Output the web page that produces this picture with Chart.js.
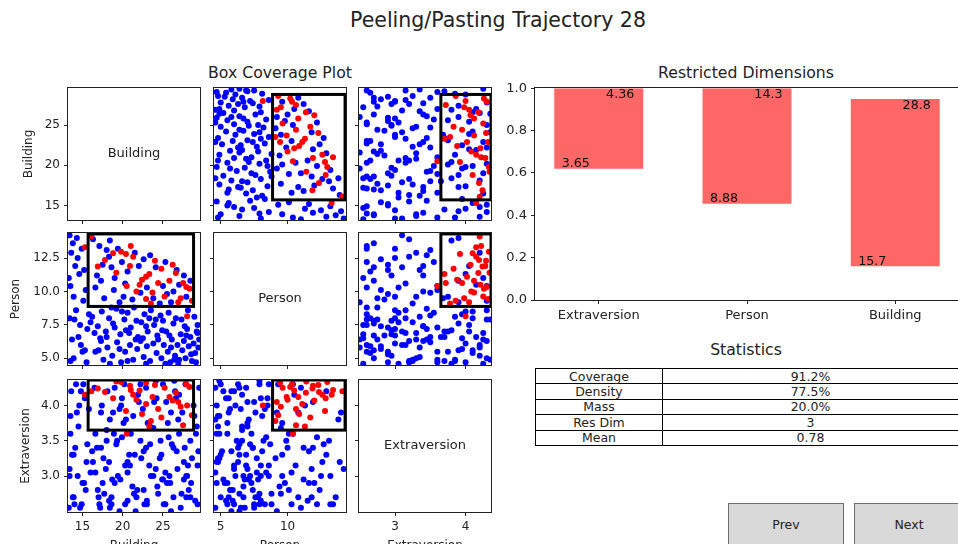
<!DOCTYPE html>
<html>
<head>
<meta charset="utf-8">
<title>Peeling/Pasting Trajectory 28</title>
<script src="https://cdn.jsdelivr.net/npm/chart.js@4.4.1/dist/chart.umd.min.js"></script>
<style>
  body { margin: 0; width: 958px; height: 544px; overflow: hidden; position: relative; background: #fff;
         font-family: "DejaVu Sans", sans-serif; color: #111; }
  canvas { position: absolute; left: 0; top: 0; }
  .lbl { position: absolute; white-space: nowrap; line-height: 1; transform: translate(-50%, -50%); }
  #stats { position: absolute; left: 535px; top: 368px; width: 424px; border-collapse: collapse;
           table-layout: fixed; font-size: 12.5px; line-height: 13px; color: #222; }
  #stats td { border: 1px solid #000; padding: 0; height: 14.4px; text-align: center; }
  .btn { position: absolute; top: 503px; height: 60px; box-sizing: border-box; background: #d9d9d9;
         border: 1px solid #6e6e6e; font-size: 12.5px; line-height: 12.5px; padding-top: 15px; text-align: center; color: #222; }
</style>
</head>
<body>
<div class="lbl" style="left:498px;top:20px;font-size:20.5px;color:#222">Peeling/Pasting Trajectory 28</div>
<div class="lbl" style="left:280px;top:73px;font-size:15.7px;color:#222">Box Coverage Plot</div>
<div class="lbl" style="left:746px;top:73px;font-size:15.7px;color:#222">Restricted Dimensions</div>
<div class="lbl" style="left:746px;top:350px;font-size:15.7px;color:#222">Statistics</div>
<table id="stats"><colgroup><col style="width:127px"><col></colgroup></table>
<div class="btn" style="left:728px;width:116px">Prev</div>
<div class="btn" style="left:854px;width:110px">Next</div>
<script>
// dimensions of the scatter matrix (rows / columns)
const dimNames = ['Building', 'Person', 'Extraversion'];
const axisMin = [13.2, 4.5, 2.49];
const axisMax = [29.6, 14.37, 4.36];
const xTicks = [[15, 20, 25], [5, 10], [3, 4]];
const yTicks = [[15, 20, 25], [5, 7.5, 10, 12.5], [3, 3.5, 4]];
const yDecimals = [0, 1, 1];
const boxLow = [15.7, 8.88, 3.65];
const boxHigh = [28.8, 14.3, 4.36];

// points: [building, person, extraversion]
const redPoints = [
  [26.9, 9.19, 4.05], [27.9, 10.33, 4.30], [27.5, 10.63, 3.72], [26.6, 11.37, 4.18], [25.2, 9.63, 4.25],
  [24.4, 10.63, 3.95], [23.7, 9.93, 4.12], [23.5, 9.09, 3.78], [22.9, 9.44, 4.32], [22.9, 11.10, 4.02],
  [22.4, 10.87, 3.88], [22.1, 10.50, 4.21], [21.7, 10.00, 4.08], [20.9, 11.90, 4.28], [21.3, 12.60, 4.15],
  [20.4, 12.80, 3.92], [19.8, 12.97, 4.33], [18.8, 12.85, 4.10], [17.8, 12.35, 4.19], [16.9, 11.86, 4.24],
  [16.1, 14.10, 4.20], [23.3, 11.30, 3.70], [28.3, 10.20, 4.26], [27.2, 9.50, 3.98], [25.8, 10.80, 4.12],
  [24.8, 11.70, 3.83], [19.2, 11.40, 4.34], [26.2, 12.00, 4.07], [28.6, 9.30, 3.86], [21.0, 13.40, 4.22],
  [24.0, 12.30, 4.29], [28.0, 8.15, 4.00], [15.3, 13.30, 4.15], [20.5, 10.40, 3.60]
];
const bluePoints = [
  [13.4, 14.2, 3.1], [13.8, 13.6, 2.7], [14.3, 14.0, 3.9], [13.6, 12.9, 4.2], [14.9, 13.2, 2.6],
  [14.1, 11.9, 3.4], [15.2, 11.6, 2.9], [14.6, 11.3, 4.0], [13.5, 10.4, 3.6], [15.4, 10.1, 2.8],
  [13.9, 9.6, 3.3], [15.1, 9.3, 4.3], [14.4, 12.5, 3.0], [13.3, 11.0, 2.55],
  [16.3, 13.9, 3.2], [17.1, 13.4, 2.6], [18.0, 13.1, 3.5], [17.5, 12.0, 2.9], [16.8, 11.2, 3.4],
  [18.6, 11.8, 2.7], [19.4, 13.2, 3.0], [19.9, 12.2, 3.55], [20.6, 11.5, 2.65], [21.5, 12.9, 3.3],
  [22.6, 12.4, 2.8], [23.4, 12.7, 3.45], [24.1, 11.8, 3.1], [25.3, 12.2, 2.6], [26.7, 11.6, 3.35],
  [27.6, 11.2, 2.95], [16.6, 10.3, 3.05], [17.7, 9.5, 2.75], [18.9, 10.1, 3.6], [19.6, 9.2, 2.5],
  [20.3, 10.6, 3.15], [21.2, 9.4, 2.85], [22.2, 9.9, 3.5], [23.0, 10.3, 2.6], [24.6, 9.1, 3.25],
  [25.5, 9.8, 2.9], [26.3, 10.0, 3.4], [27.9, 9.6, 3.0], [28.4, 10.8, 2.7], [18.3, 12.6, 3.2],
  [17.3, 10.8, 3.9], [19.0, 11.0, 4.25], [20.1, 9.6, 3.75], [22.0, 11.9, 4.05], [23.8, 9.5, 3.68],
  [25.0, 10.4, 4.3], [26.0, 9.2, 3.9], [27.0, 10.5, 4.15], [18.4, 13.8, 3.8],
  [13.4, 8.0, 3.0], [14.0, 7.9, 2.6], [14.5, 6.6, 3.7], [13.7, 6.4, 3.3], [15.0, 5.5, 2.9],
  [15.3, 5.6, 4.1], [14.2, 8.6, 4.3], [15.6, 7.2, 3.45], [13.9, 5.0, 2.7], [15.8, 8.3, 3.95],
  [14.7, 7.5, 2.55], [13.5, 4.8, 3.85], [15.5, 4.7, 3.2], [14.8, 6.0, 4.2],
  [16.2, 8.1, 3.35], [16.9, 7.4, 2.8], [17.4, 8.5, 4.0], [17.9, 7.0, 3.1], [18.3, 8.0, 2.65],
  [18.8, 7.6, 3.9], [19.2, 8.7, 3.45], [19.7, 6.8, 2.95], [20.2, 7.9, 4.3], [20.6, 8.4, 3.05],
  [21.0, 7.3, 3.6], [21.4, 8.8, 2.75], [21.9, 6.6, 4.15], [22.3, 7.7, 3.25], [22.7, 8.3, 2.6],
  [23.1, 7.0, 3.75], [23.5, 8.6, 3.0], [23.9, 7.5, 4.05], [24.3, 6.7, 2.85], [24.7, 8.2, 3.5],
  [16.5, 6.9, 4.25], [17.2, 6.5, 2.55], [18.0, 6.6, 3.65], [19.0, 7.3, 2.9], [19.9, 8.5, 4.1],
  [20.8, 6.9, 3.3], [21.7, 7.8, 2.7], [22.5, 6.5, 3.95], [23.3, 8.0, 3.15], [24.1, 7.9, 4.35],
  [16.0, 7.7, 3.05], [18.6, 8.8, 2.6], [20.4, 7.1, 3.8], [22.9, 7.4, 3.4], [24.9, 7.1, 2.95],
  [16.6, 5.5, 3.6], [17.0, 5.6, 2.7], [17.6, 4.9, 3.25], [18.1, 5.8, 4.2], [18.7, 5.2, 2.95],
  [19.3, 6.2, 3.5], [19.8, 4.7, 4.0], [20.3, 5.5, 2.6], [20.9, 6.0, 3.15], [21.3, 4.9, 3.85],
  [21.8, 5.7, 2.8], [22.2, 6.3, 4.3], [22.6, 5.1, 3.35], [23.0, 5.9, 2.65], [23.4, 4.8, 3.7],
  [23.8, 6.1, 3.0], [24.2, 5.4, 4.1], [17.3, 6.3, 3.4], [18.4, 4.6, 2.55], [19.6, 5.7, 3.95],
  [20.6, 4.8, 3.2], [21.6, 6.4, 2.5], [22.9, 4.6, 4.25], [24.4, 6.4, 2.75],
  [24.8, 5.0, 3.3], [25.1, 6.0, 2.6], [25.4, 7.0, 4.05], [25.6, 5.5, 3.75], [25.9, 4.7, 2.9],
  [26.1, 6.4, 3.45], [26.3, 7.6, 2.7], [26.5, 5.2, 4.2], [26.8, 6.0, 3.1], [27.0, 4.9, 3.6],
  [27.2, 6.8, 2.55], [27.4, 5.6, 3.9], [27.6, 6.3, 3.2], [27.8, 5.0, 4.3], [28.0, 7.2, 3.0],
  [28.2, 5.9, 2.8], [28.4, 6.6, 3.5], [28.6, 4.8, 3.25], [28.8, 6.1, 4.0], [29.0, 5.4, 2.65],
  [29.2, 7.0, 3.7], [29.4, 5.8, 3.35], [25.0, 7.8, 2.95], [25.7, 8.4, 3.55], [26.6, 8.0, 4.1],
  [27.3, 7.9, 2.75], [28.1, 8.6, 3.15], [28.9, 8.1, 3.85], [29.3, 7.5, 2.6], [29.5, 6.4, 4.25],
  [25.3, 4.6, 3.05], [26.0, 5.8, 2.5], [26.9, 4.6, 3.8], [27.7, 7.4, 3.4], [28.5, 5.3, 2.9],
  [29.1, 4.7, 3.6], [25.8, 6.7, 3.0], [26.4, 4.9, 4.35], [27.9, 6.7, 2.7], [29.3, 6.9, 3.15]
];

// restricted dimensions bar chart
const barDims = ['Extraversion', 'Person', 'Building'];
const barLow = [0.62, 0.455, 0.16];
const barHigh = [1.0, 1.0, 0.95];
const barLowText = ['3.65', '8.88', '15.7'];
const barHighText = ['4.36', '14.3', '28.8'];
const barTicks = [0, 0.2, 0.4, 0.6, 0.8, 1.0];

// statistics table
const statNames = ['Coverage', 'Density', 'Mass', 'Res Dim', 'Mean'];
const statValues = ['91.2%', '77.5%', '20.0%', '3', '0.78'];

const CW = 1000, CH = 600;
const colLeft = [68, 214, 359];
const rowTop = [88, 233, 380];
const cellSize = 132;
const yTitleX = [29, 16, 26];
const xTitleY = 546;
const HALF_LH = 7.2;
const FONT = '"DejaVu Sans", sans-serif';

Chart.defaults.font.family = FONT;
Chart.defaults.color = '#222';

const tbl = document.getElementById('stats');
statNames.forEach((n, k) => {
  const tr = tbl.insertRow();
  tr.insertCell().textContent = n;
  tr.insertCell().textContent = statValues[k];
});

function addCanvas() {
  const c = document.createElement('canvas');
  c.width = CW; c.height = CH;
  document.body.appendChild(c);
  return c;
}

// frame, box rectangle and diagonal label
const decor = {
  id: 'decor',
  afterDatasetsDraw(chart, args, opts) {
    const { ctx, chartArea: a, scales } = chart;
    if (opts.box) {
      const [x0, x1, y0, y1] = opts.box;
      ctx.save();
      ctx.beginPath();
      ctx.rect(a.left, a.top, a.right - a.left, a.bottom - a.top);
      ctx.clip();
      const px0 = scales.x.getPixelForValue(x0), px1 = scales.x.getPixelForValue(x1);
      const py0 = scales.y.getPixelForValue(y0), py1 = scales.y.getPixelForValue(y1);
      ctx.lineWidth = 3;
      ctx.strokeStyle = '#000';
      ctx.strokeRect(px0, py1, px1 - px0, py0 - py1);
      ctx.restore();
    }
    if (opts.label) {
      ctx.save();
      ctx.font = '13px ' + FONT;
      ctx.fillStyle = '#222';
      ctx.textAlign = 'center';
      ctx.textBaseline = 'middle';
      ctx.fillText(opts.label, (a.left + a.right) / 2, (a.top + a.bottom) / 2);
      ctx.restore();
    }
    ctx.save();
    ctx.lineWidth = 1;
    ctx.strokeStyle = '#222';
    const l = Math.round(a.left) - 0.5, t = Math.round(a.top) - 0.5;
    ctx.strokeRect(l, t, Math.round(a.right) - Math.round(a.left) + 1, Math.round(a.bottom) - Math.round(a.top) + 1);
    ctx.restore();
  }
};

const barText = {
  id: 'barText',
  afterDatasetsDraw(chart) {
    const { ctx, scales: { x, y } } = chart;
    ctx.save();
    ctx.font = '12.7px ' + FONT;
    ctx.fillStyle = '#111';
    ctx.textBaseline = 'alphabetic';
    barLow.forEach((lo, k) => {
      ctx.textAlign = 'left';
      ctx.fillText(barLowText[k], x.getPixelForValue(k - 0.25), y.getPixelForValue(lo) - 1.5);
      ctx.textAlign = 'right';
      ctx.fillText(barHighText[k], x.getPixelForValue(k + 0.24), y.getPixelForValue(barHigh[k]) + 10);
    });
    ctx.restore();
  }
};

function axisOpts(dim, side, showLabels, ticks, dec, size) {
  return {
    type: 'linear', position: side, min: axisMin[dim], max: axisMax[dim],
    afterBuildTicks: s => { s.ticks = ticks.map(v => ({ value: v })); },
    afterFit: s => { if (side === 'left') s.width = size; else s.height = size; },
    grid: { display: true, drawOnChartArea: false, drawTicks: true, tickLength: 4, color: '#222', lineWidth: 1 },
    border: { display: false },
    ticks: { display: showLabels, padding: 4, autoSkip: false, maxRotation: 0, color: '#222',
             font: { size: 12 }, callback: v => Number(v).toFixed(dec) },
    title: { display: showLabels, text: dimNames[dim], padding: 0, color: '#222', font: { size: 12 } }
  };
}

function scatterPanel(i, j) {
  const l = colLeft[j], t = rowTop[i], r = l + cellSize, b = t + cellSize;
  const leftCol = j === 0, bottomRow = i === 2, diag = i === j;
  const yW = leftCol ? l - (yTitleX[i] - HALF_LH) : 5;
  const xH = bottomRow ? xTitleY + HALF_LH - b : 5;
  const pts = (list, color) => ({
    data: list.map(p => ({ x: p[j], y: p[i] })),
    pointRadius: 3, pointHoverRadius: 3, pointBorderWidth: 0,
    pointBackgroundColor: color, pointBorderColor: color, backgroundColor: color
  });
  new Chart(addCanvas(), {
    type: 'scatter',
    data: { datasets: diag ? [] : [pts(redPoints, '#ff0000'), pts(bluePoints, '#0000ff')] },
    options: {
      responsive: false, animation: false, events: [],
      layout: { padding: { left: l - yW, top: t, right: CW - r, bottom: CH - b - xH } },
      plugins: {
        legend: { display: false }, tooltip: { enabled: false },
        decor: diag ? { label: dimNames[i] } : { box: [boxLow[j], boxHigh[j], boxLow[i], boxHigh[i]] }
      },
      scales: {
        x: axisOpts(j, 'bottom', bottomRow, xTicks[j], 0, xH),
        y: axisOpts(i, 'left', leftCol, yTicks[i], yDecimals[i], yW)
      }
    },
    plugins: [decor]
  });
}

for (let i = 0; i < 3; i++) for (let j = 0; j < 3; j++) scatterPanel(i, j);

// bar chart of restricted dimensions
const bar = { l: 535, t: 88.3, r: 959, b: 300 };
new Chart(addCanvas(), {
  type: 'bar',
  data: {
    datasets: [{
      data: barLow.map((lo, k) => ({ x: k, y: [lo, barHigh[k]] })),
      backgroundColor: 'rgba(255,0,0,0.6)', borderWidth: 0,
      categoryPercentage: 1, barPercentage: 0.6
    }]
  },
  options: {
    responsive: false, animation: false, events: [],
    layout: { padding: { left: bar.l - 60, top: bar.t, right: CW - bar.r, bottom: CH - bar.b - 40 } },
    plugins: { legend: { display: false }, tooltip: { enabled: false }, decor: {} },
    scales: {
      x: {
        type: 'linear', min: -0.43, max: 2.43, offset: false,
        afterBuildTicks: s => { s.ticks = barDims.map((_, k) => ({ value: k })); },
        afterFit: s => { s.height = 40; },
        grid: { display: true, offset: false, drawOnChartArea: false, drawTicks: true, tickLength: 4, color: '#222' },
        border: { display: false },
        ticks: { padding: 4, autoSkip: false, maxRotation: 0, color: '#222', font: { size: 13 },
                 callback: v => barDims[v] }
      },
      y: {
        min: 0, max: 1,
        afterBuildTicks: s => { s.ticks = barTicks.map(v => ({ value: v })); },
        afterFit: s => { s.width = 60; },
        grid: { display: true, drawOnChartArea: false, drawTicks: true, tickLength: 4, color: '#222' },
        border: { display: false },
        ticks: { padding: 4, color: '#222', font: { size: 13 }, callback: v => Number(v).toFixed(1) }
      }
    }
  },
  plugins: [decor, barText]
});
</script>
</body>
</html>
